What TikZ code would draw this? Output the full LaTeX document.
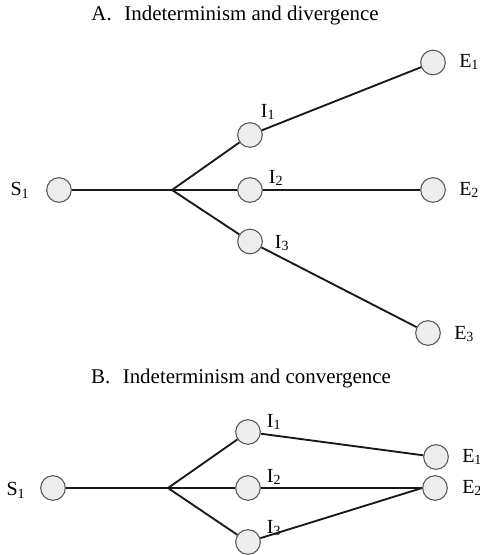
\documentclass[tikz,border=0pt]{standalone}
\usepackage{fontspec}
\setmainfont{Liberation Serif}
\begin{document}
\begin{tikzpicture}[x=0.75pt,y=-0.75pt,
  state/.style={circle,draw=black!65,fill=black!7,line width=0.8pt,minimum size=18.5pt,inner sep=0pt},
  lbl/.style={font=\fontsize{15}{17}\selectfont,inner sep=0pt},
  ttl/.style={font=\fontsize{15.7}{18}\selectfont,inner sep=0pt},
  edge/.style={line width=1.4pt,black!90}]
\useasboundingbox (0,0) rectangle (479,555);

% Part A: divergence
\node[ttl] (tA) at (235,16) {A.\hspace{0.6em}Indeterminism and divergence};
\node[state] (aS) at (59,190) {};
\coordinate (aB) at (172,190);
\node[state] (aI1) at (250,135) {};
\node[state] (aI2) at (250,190) {};
\node[state] (aI3) at (250,241.5) {};
\node[state] (aE1) at (433,62.5) {};
\node[state] (aE2) at (433,190) {};
\node[state] (aE3) at (428,333) {};
\node[lbl] (laS) at (20,190) {S\textsubscript{1}};
\node[lbl] (laI1) at (268,112) {I\textsubscript{1}};
\node[lbl] (laI2) at (276,178) {I\textsubscript{2}};
\node[lbl] (laI3) at (282,243) {I\textsubscript{3}};
\node[lbl,anchor=west] (laE1) at (459,62) {E\textsubscript{1}};
\node[lbl,anchor=west] (laE2) at (459,190) {E\textsubscript{2}};
\node[lbl,anchor=west] (laE3) at (454,334) {E\textsubscript{3}};
\draw[edge] (aS) -- (aB);
\draw[edge] (aB) -- (aI1);
\draw[edge] (aB) -- (aI2);
\draw[edge] (aB) -- (aI3);
\draw[edge] (aI1) -- (aE1);
\draw[edge] (aI2) -- (aE2);
\draw[edge] (aI3) -- (aE3);

% Part B: convergence
\node[ttl] (tB) at (241,378) {B.\hspace{0.6em}Indeterminism and convergence};
\node[state] (bS) at (53,488) {};
\coordinate (bB) at (168,488);
\node[state] (bI1) at (248,432) {};
\node[state] (bI2) at (248,488) {};
\node[state] (bI3) at (248,542) {};
\node[state] (bE1) at (436,457) {};
\node[state] (bE2) at (435,488) {};
\node[lbl] (lbS) at (16,490) {S\textsubscript{1}};
\node[lbl] (lbI1) at (274,422) {I\textsubscript{1}};
\node[lbl] (lbI2) at (274,477) {I\textsubscript{2}};
\node[lbl] (lbI3) at (274,528) {I\textsubscript{3}};
\node[lbl,anchor=west] (lbE1) at (462,457) {E\textsubscript{1}};
\node[lbl,anchor=west] (lbE2) at (462,488) {E\textsubscript{2}};
\draw[edge] (bS) -- (bB);
\draw[edge] (bB) -- (bI1);
\draw[edge] (bB) -- (bI2);
\draw[edge] (bB) -- (bI3);
\draw[edge] (bI1) -- (bE1);
\draw[edge] (bI2) -- (bE2.west);
\draw[edge] (bI3) -- (bE2.west);
\end{tikzpicture}
\end{document}
